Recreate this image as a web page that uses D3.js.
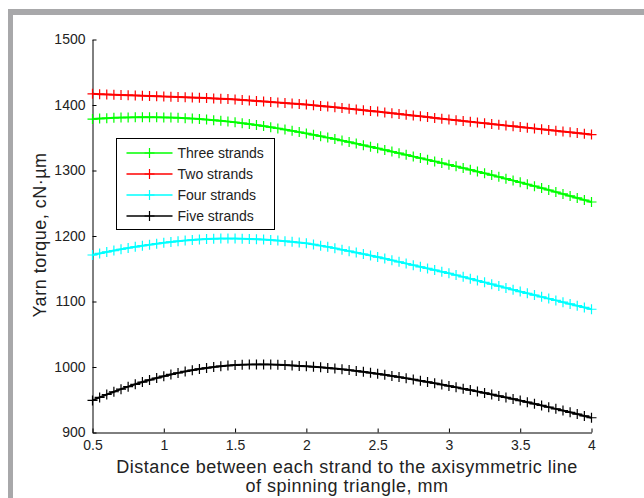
<!DOCTYPE html>
<html>
<head>
<meta charset="utf-8">
<script src="https://cdn.jsdelivr.net/npm/d3@7"></script>
<style>
  body { margin: 0; background: #fff; }
  svg { display: block; font-family: Arial, "Liberation Sans", sans-serif; }
  .tick text { font-size: 14px; fill: #222; }
  .domain, .tick line { stroke: #000; }
  .title { font-size: 18px; fill: #222; letter-spacing: 0.5px; }
</style>
</head>
<body>
<svg></svg>
<script>
// distance values, 0.5 to 4 every 0.05 mm
const distance = [0.5, 0.55, 0.6, 0.65, 0.7, 0.75, 0.8, 0.85, 0.9, 0.95,
  1, 1.05, 1.1, 1.15, 1.2, 1.25, 1.3, 1.35, 1.4, 1.45,
  1.5, 1.55, 1.6, 1.65, 1.7, 1.75, 1.8, 1.85, 1.9, 1.95,
  2, 2.05, 2.1, 2.15, 2.2, 2.25, 2.3, 2.35, 2.4, 2.45,
  2.5, 2.55, 2.6, 2.65, 2.7, 2.75, 2.8, 2.85, 2.9, 2.95,
  3, 3.05, 3.1, 3.15, 3.2, 3.25, 3.3, 3.35, 3.4, 3.45,
  3.5, 3.55, 3.6, 3.65, 3.7, 3.75, 3.8, 3.85, 3.9, 3.95, 4];

const threeStrands = [1378.5, 1379.3, 1379.9, 1380.4, 1380.8, 1381.1, 1381.3, 1381.4, 1381.4, 1381.3,
  1381.1, 1380.8, 1380.4, 1379.9, 1379.3, 1378.6, 1377.8, 1376.9, 1375.9, 1374.8,
  1373.6, 1372.3, 1370.9, 1369.4, 1367.8, 1366.1, 1364.3, 1362.5, 1360.6, 1358.6,
  1356.6, 1354.5, 1352.4, 1350.2, 1348.0, 1345.7, 1343.4, 1341.1, 1338.7, 1336.3,
  1333.9, 1331.4, 1328.9, 1326.4, 1323.9, 1321.4, 1318.9, 1316.4, 1313.9, 1311.4,
  1308.9, 1306.3, 1303.7, 1301.1, 1298.4, 1295.7, 1293.0, 1290.3, 1287.5, 1284.7,
  1281.9, 1279.0, 1276.1, 1273.2, 1270.2, 1267.2, 1264.2, 1261.2, 1258.1, 1255.0, 1251.9];

const twoStrands = [1417.0, 1416.6, 1416.2, 1415.8, 1415.4, 1415.0, 1414.6, 1414.2, 1413.8, 1413.4,
  1413.0, 1412.6, 1412.2, 1411.8, 1411.4, 1411.0, 1410.5, 1410.0, 1409.5, 1409.0,
  1408.5, 1407.8, 1407.0, 1406.2, 1405.4, 1404.6, 1403.8, 1403.0, 1402.2, 1401.4,
  1400.6, 1399.6, 1398.6, 1397.6, 1396.5, 1395.4, 1394.3, 1393.2, 1392.1, 1391.0,
  1389.9, 1388.7, 1387.5, 1386.3, 1385.1, 1383.9, 1382.7, 1381.5, 1380.3, 1379.1,
  1377.9, 1376.8, 1375.6, 1374.5, 1373.3, 1372.2, 1371.0, 1369.9, 1368.7, 1367.6,
  1366.4, 1365.3, 1364.1, 1363.0, 1361.8, 1360.7, 1359.5, 1358.4, 1357.2, 1356.1, 1354.9];

const fourStrands = [1171.0, 1173.4, 1175.7, 1177.8, 1179.8, 1181.7, 1183.5, 1185.2, 1186.8, 1188.3,
  1189.7, 1191.0, 1192.1, 1193.1, 1194.0, 1194.7, 1195.3, 1195.7, 1196.0, 1196.1,
  1196.1, 1195.9, 1195.6, 1195.1, 1194.5, 1193.8, 1193.0, 1192.1, 1191.1, 1190.0,
  1188.8, 1187.1, 1185.3, 1183.4, 1181.3, 1179.1, 1176.9, 1174.7, 1172.5, 1170.2,
  1167.9, 1165.5, 1163.0, 1160.5, 1158.0, 1155.5, 1153.0, 1150.5, 1148.0, 1145.5,
  1143.0, 1140.3, 1137.6, 1134.8, 1132.0, 1129.2, 1126.4, 1123.6, 1120.8, 1118.0,
  1115.2, 1112.5, 1109.8, 1107.1, 1104.4, 1101.7, 1099.0, 1096.3, 1093.6, 1090.9, 1088.2];

const fiveStrands = [949.0, 953.6, 958.0, 962.2, 966.2, 970.0, 973.6, 977.0, 980.2, 983.2,
  986.0, 988.6, 991.0, 993.2, 995.2, 997.0, 998.6, 1000.0, 1001.2, 1002.2,
  1003.0, 1003.5, 1003.8, 1004.0, 1004.0, 1003.8, 1003.5, 1003.0, 1002.4, 1001.6,
  1001.0, 1000.3, 999.5, 998.6, 997.6, 996.5, 995.3, 994.0, 992.6, 991.1,
  989.6, 988.0, 986.3, 984.6, 982.8, 981.0, 979.1, 977.2, 975.2, 973.2,
  971.1, 969.0, 966.9, 964.8, 962.6, 960.4, 958.1, 955.8, 953.5, 951.2,
  948.8, 946.3, 943.8, 941.3, 938.7, 936.1, 933.5, 930.8, 928.1, 925.3, 922.5];

const seriesNames = ["Three strands", "Two strands", "Four strands", "Five strands"];
const seriesColors = ["#00ff00", "#ff0000", "#00ffff", "#000000"];
const seriesValues = [threeStrands, twoStrands, fourStrands, fiveStrands];

const xTicks = [0.5, 1, 1.5, 2, 2.5, 3, 3.5, 4];
const yTicks = [900, 1000, 1100, 1200, 1300, 1400, 1500];

const W = 644, H = 498;
const svg = d3.select("svg").attr("width", W).attr("height", H);

// grey frame on top and left (cropped figure border)
svg.append("rect").attr("x", 8).attr("y", 9).attr("width", W - 8).attr("height", 6).attr("fill", "#a8a8aa");
svg.append("rect").attr("x", 8).attr("y", 9).attr("width", 5).attr("height", H - 9).attr("fill", "#a8a8aa");

const x = d3.scaleLinear().domain([0.5, 4]).range([92.5, 591.5]);
const y = d3.scaleLinear().domain([900, 1500]).range([432.5, 39.5]);

// axes, ticks pointing inwards like matlab
svg.append("g")
  .attr("transform", `translate(0, ${y(900)})`)
  .call(d3.axisBottom(x).tickValues(xTicks).tickSize(-4).tickSizeOuter(0).tickPadding(10).tickFormat(d3.format("")))
  .call(g => g.selectAll(".tick text").attr("dy", "0.55em"));

svg.append("g")
  .attr("transform", `translate(${x(0.5)}, 0)`)
  .call(d3.axisLeft(y).tickValues(yTicks).tickSize(-4).tickSizeOuter(0).tickPadding(7).tickFormat(d3.format("d")));

// series lines with + markers
const line = d3.line()
  .x((d, i) => x(distance[i]))
  .y(d => y(d));

const series = svg.selectAll("g.series")
  .data(seriesValues)
  .enter()
  .append("g")
  .attr("class", "series");

series.append("path")
  .attr("d", d => line(d))
  .attr("fill", "none")
  .attr("stroke", (d, i) => seriesColors[i])
  .attr("stroke-width", 2);

const m = 5; // half size of the + marker
series.each(function(vals, si) {
  d3.select(this).selectAll("path.mark")
    .data(vals)
    .enter()
    .append("path")
    .attr("class", "mark")
    .attr("d", (d, i) => {
      const px = x(distance[i]), py = y(d);
      return `M${px - m},${py}H${px + m}M${px},${py - m}V${py + m}`;
    })
    .attr("stroke", seriesColors[si])
    .attr("stroke-width", 1.2)
    .attr("fill", "none");
});

// legend
const legend = svg.append("g").attr("transform", "translate(116.5, 138.5)");
legend.append("rect")
  .attr("width", 158).attr("height", 91)
  .attr("fill", "#fff").attr("stroke", "#000").attr("stroke-width", 1);

const items = legend.selectAll("g.item")
  .data(seriesNames)
  .enter()
  .append("g")
  .attr("class", "item")
  .attr("transform", (d, i) => `translate(0, ${14.5 + i * 21})`);

items.append("line")
  .attr("x1", 10).attr("x2", 56)
  .attr("stroke", (d, i) => seriesColors[i])
  .attr("stroke-width", 1.5);
items.append("path")
  .attr("d", `M${33 - m},0H${33 + m}M33,${-m}V${m}`)
  .attr("stroke", (d, i) => seriesColors[i])
  .attr("stroke-width", 1.2);
items.append("text")
  .attr("x", 61)
  .attr("dy", "0.35em")
  .style("font-size", "14px")
  .style("fill", "#222")
  .text(d => d);

// axis titles
svg.append("text")
  .attr("class", "title")
  .attr("x", 347).attr("y", 473)
  .attr("text-anchor", "middle")
  .text("Distance between each strand to the axisymmetric line");
svg.append("text")
  .attr("class", "title")
  .attr("x", 347).attr("y", 492)
  .attr("text-anchor", "middle")
  .text("of spinning triangle, mm");

svg.append("text")
  .attr("class", "title")
  .attr("transform", "translate(46, 235) rotate(-90)")
  .attr("text-anchor", "middle")
  .text("Yarn torque, cN·µm");
</script>
</body>
</html>
